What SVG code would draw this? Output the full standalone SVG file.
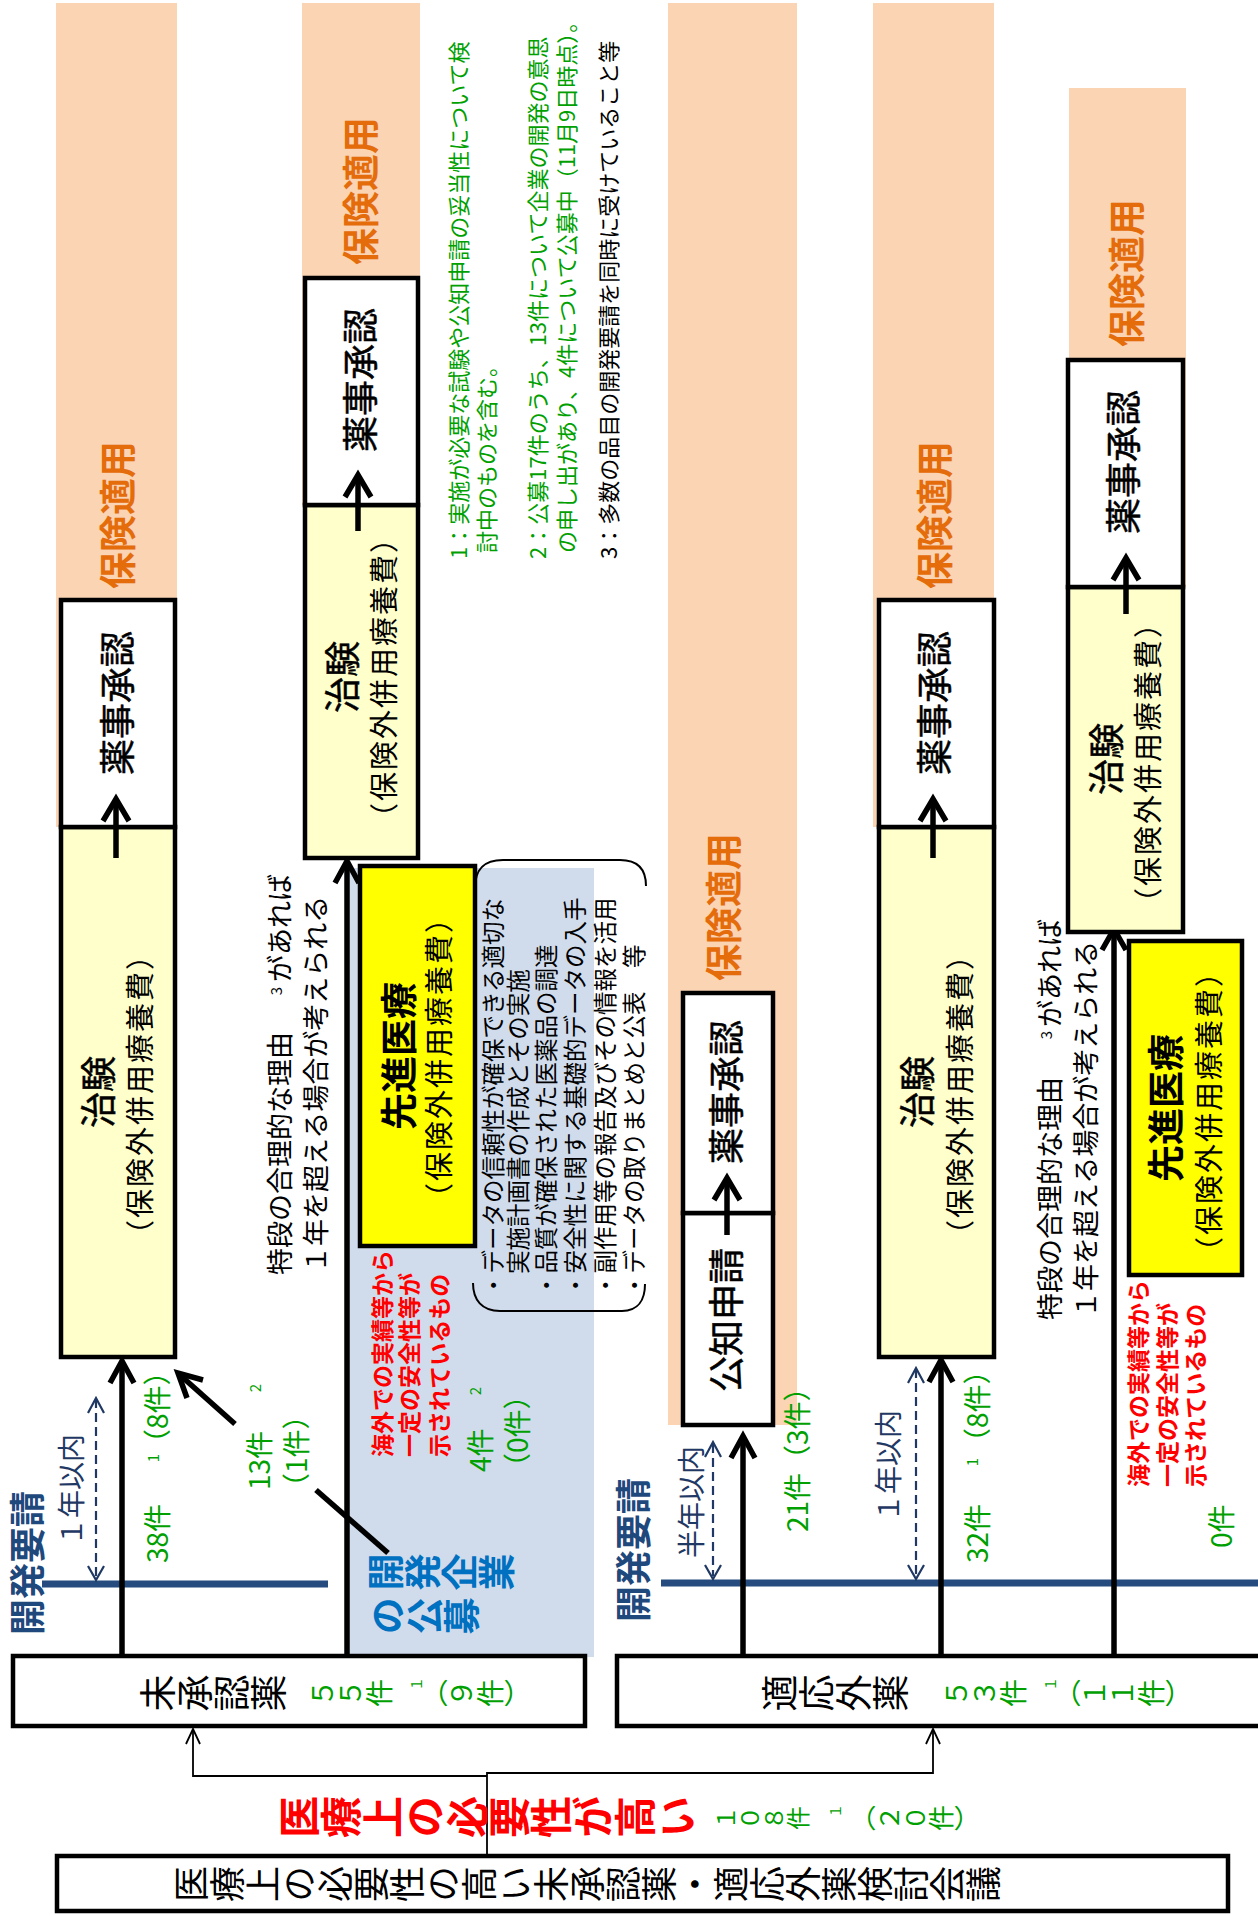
<svg xmlns="http://www.w3.org/2000/svg" width="1258" height="1916" viewBox="0 0 1258 1916">
<style>
text{font-family:"Noto Sans CJK JP","Noto Sans CJK SC",sans-serif;}
.v{writing-mode:vertical-rl;text-orientation:upright;}
.m{text-anchor:middle;}
.bx{stroke:#000;stroke-width:4.5;}
.peach{fill:#FBD4B4;}
.yl{fill:#FFFFCC;}
.yy{fill:#FFFF00;}
.wh{fill:#FFFFFF;}
.ora{fill:#E46C0A;font-weight:bold;font-size:37px;}
.lbl{fill:#000;font-size:36px;stroke:#000;stroke-width:0.5;}
.sub{fill:#000;font-size:29px;letter-spacing:2px;}
.sen{fill:#000;font-size:37px;font-weight:bold;}
.g{fill:#00A000;font-size:28px;}
.gs{fill:#00A000;font-size:15px;}
.red{fill:#FF0000;font-weight:bold;font-size:23px;}
.nv{fill:#1F3864;font-size:28px;}
.kh{fill:#1F497D;font-size:36px;font-weight:bold;}
.note{font-size:22px;}
.li{fill:#000;font-size:23.5px;}
.tk{fill:#000;font-size:27px;}
.flow{stroke:#000;stroke-width:5.5;fill:none;}
.thin{stroke:#000;stroke-width:1.8;fill:none;}
.dash{stroke:#1F3864;stroke-width:2.2;fill:none;stroke-dasharray:9 5;}
.ah{stroke:#1F3864;stroke-width:2.2;fill:none;}
.kline{stroke:#254B7F;stroke-width:7;}
</style>

<g id="backgrounds">
<rect class="peach" x="56" y="3" width="121" height="824"/>
<rect class="peach" x="302" y="3" width="118" height="502"/>
<rect class="peach" x="668" y="3" width="129" height="1422"/>
<rect class="peach" x="873" y="3" width="121" height="824"/>
<rect class="peach" x="1069" y="88" width="117" height="499"/>
<rect x="349" y="868" width="245" height="789" fill="#D0DCEC"/>
</g>

<g id="connectors">
<line class="kline" x1="42" y1="1584" x2="328" y2="1584"/>
<line class="kline" x1="661" y1="1583" x2="1260" y2="1583"/>
<path class="thin" d="M487,1855 V1773 H933 V1730 M487,1776 H193 V1730"/>
<path class="thin" d="M186,1744 L193,1729 L200,1744 M926,1744 L933,1729 L940,1744"/>
<line class="flow" x1="122" y1="1657" x2="122" y2="1362"/>
<polyline class="flow" points="110,1383 122,1361 134,1383"/>
<line class="flow" x1="347" y1="1657" x2="347" y2="862"/>
<polyline class="flow" points="335,883 347,861 359,883"/>
<line class="flow" x1="743" y1="1657" x2="743" y2="1437"/>
<polyline class="flow" points="731,1458 743,1436 755,1458"/>
<line class="flow" x1="941" y1="1657" x2="941" y2="1361"/>
<polyline class="flow" points="929,1382 941,1360 953,1382"/>
<line class="flow" x1="1114" y1="1657" x2="1114" y2="930"/>
<polyline class="flow" points="1102,950 1114,929 1126,950"/>
<line class="flow" x1="388" y1="1553" x2="316" y2="1490"/>
<line class="flow" x1="235" y1="1424" x2="180" y2="1375"/>
<polyline class="flow" points="187,1398 178,1373 203,1380"/>
<line class="dash" x1="96" y1="1399" x2="96" y2="1578"/>
<path class="ah" d="M88,1413 L96,1398 L104,1413 M88,1566 L96,1580 L104,1566"/>
<line class="dash" x1="713" y1="1444" x2="713" y2="1576"/>
<path class="ah" d="M705,1457 L713,1442 L721,1457 M705,1565 L713,1579 L721,1565"/>
<line class="dash" x1="916" y1="1369" x2="916" y2="1576"/>
<path class="ah" d="M908,1383 L916,1368 L924,1383 M908,1565 L916,1579 L924,1565"/>
<path d="M475,888 C475,870 483,860 503,860 L620,860 C638,860 646,870 646,886" fill="none" stroke="#000" stroke-width="2"/>
<path d="M473,1283 C473,1300 482,1311 500,1311 L622,1311 C638,1311 645,1300 645,1284" fill="none" stroke="#000" stroke-width="2"/>
</g>

<g id="node-kentou">
<rect class="bx wh" x="57" y="1856" width="1171" height="55" stroke-width="5"/>
<text class="v" style="font-size:36px" transform="translate(173,1884) rotate(-90)">医療上の必要性の高い未承認薬・適応外薬検討会議</text>
</g>

<g id="label-hitsuyousei">
<text class="v" style="font-size:42px;font-weight:bold;fill:#FF0000" transform="translate(278,1817) rotate(-90)">医療上の必要性が高い</text>
<text class="v" style="font-size:24px;fill:#00A000" transform="translate(714,1818) rotate(-90)">１０８件</text>
<text class="v" style="font-size:14px;fill:#00A000" transform="translate(829,1811) rotate(-90)">１</text>
<text class="v" style="font-size:26px;fill:#00A000" transform="translate(850,1818) rotate(-90)">（２０件）</text>
</g>

<g id="node-mishounin">
<rect class="bx wh" x="13" y="1656" width="572" height="70" stroke-width="5"/>
<text class="v" style="font-size:37px" transform="translate(139,1693) rotate(-90)">未承認薬</text>
<text class="v" style="font-size:28px;fill:#00A000" transform="translate(309,1693) rotate(-90)">５５件</text>
<text class="v" style="font-size:14px;fill:#00A000" transform="translate(410,1684) rotate(-90)">１</text>
<text class="v" style="font-size:28px;fill:#00A000" transform="translate(420,1693) rotate(-90)">（９件）</text>
</g>

<g id="node-tekiougai">
<rect class="bx wh" x="617" y="1656" width="680" height="70" stroke-width="5"/>
<text class="v" style="font-size:37px" transform="translate(761,1693) rotate(-90)">適応外薬</text>
<text class="v" style="font-size:28px;fill:#00A000" transform="translate(943,1693) rotate(-90)">５３件</text>
<text class="v" style="font-size:14px;fill:#00A000" transform="translate(1044,1684) rotate(-90)">１</text>
<text class="v" style="font-size:28px;fill:#00A000" transform="translate(1053,1693) rotate(-90)">（１１件）</text>
</g>

<g id="labels-kaihatsu">
<text class="kh m" transform="translate(41,1563) rotate(-90)">開発要請</text>
<text class="kh m" transform="translate(647,1550) rotate(-90)">開発要請</text>
<text class="nv m" transform="translate(82,1490) rotate(-90)">１年以内</text>
<text class="nv m" transform="translate(702,1502) rotate(-90)">半年以内</text>
<text class="nv m" transform="translate(899,1466) rotate(-90)">１年以内</text>
</g>

<g id="counts">
<text class="g" transform="translate(168,1563) rotate(-90)">38件</text>
<text class="gs m" transform="translate(159,1458) rotate(-90)">1</text>
<text class="g" transform="translate(168,1457) rotate(-90)">（8件）</text>
<text class="g" transform="translate(270,1490) rotate(-90)">13件</text>
<text class="gs m" transform="translate(261,1388) rotate(-90)">2</text>
<text class="g" transform="translate(307,1501) rotate(-90)">（1件）</text>
<text class="g" transform="translate(491,1472) rotate(-90)">4件</text>
<text class="gs m" transform="translate(481,1391) rotate(-90)">2</text>
<text class="g" transform="translate(528,1481) rotate(-90)">（0件）</text>
<text class="g" transform="translate(808,1532) rotate(-90)">21件（3件）</text>
<text class="g" transform="translate(988,1563) rotate(-90)">32件</text>
<text class="gs m" transform="translate(978,1462) rotate(-90)">1</text>
<text class="g" transform="translate(988,1456) rotate(-90)">（8件）</text>
<text class="g" transform="translate(1232,1548) rotate(-90)">0件</text>
</g>

<g id="labels-kaigai">
<text class="red" transform="translate(391,1457) rotate(-90)">海外での実績等から</text>
<text class="red" transform="translate(418,1457) rotate(-90)">一定の安全性等が</text>
<text class="red" transform="translate(448,1457) rotate(-90)">示されているもの</text>
<text class="red" transform="translate(1147,1487) rotate(-90)">海外での実績等から</text>
<text class="red" transform="translate(1176,1487) rotate(-90)">一定の安全性等が</text>
<text class="red" transform="translate(1204,1487) rotate(-90)">示されているもの</text>
</g>

<g id="label-koubo">
<text class="v" style="font-size:37px;font-weight:bold;fill:#0070C0" transform="translate(367,1572) rotate(-90)">開発企業</text>
<text class="v" style="font-size:37px;font-weight:bold;fill:#0070C0" transform="translate(369,1616) rotate(-90)">の公募</text>
</g>

<g id="node-chiken-1">
<rect class="bx yl" x="61" y="827" width="114" height="530"/>
<text class="lbl m" transform="translate(112,1092) rotate(-90)">治験</text>
<text class="sub m" transform="translate(151,1094) rotate(-90)">（保険外併用療養費）</text>
</g>
<g id="node-shounin-1">
<rect class="bx wh" x="61" y="600" width="114" height="227"/>
<text class="lbl m" transform="translate(131,703) rotate(-90)">薬事承認</text>
<text class="ora m" transform="translate(132,515) rotate(-90)">保険適用</text>
<line class="flow" x1="116" y1="858" x2="116" y2="800"/>
<polyline class="flow" points="103,821 116,799 129,821"/>
</g>

<g id="node-chiken-2">
<rect class="bx yl" x="305" y="505" width="113" height="353"/>
<text class="lbl m" transform="translate(356,677) rotate(-90)">治験</text>
<text class="sub m" transform="translate(395,677) rotate(-90)">（保険外併用療養費）</text>
</g>
<g id="node-shounin-2">
<rect class="bx wh" x="305" y="278" width="113" height="227"/>
<text class="lbl m" transform="translate(374,380) rotate(-90)">薬事承認</text>
<text class="ora m" transform="translate(375,191) rotate(-90)">保険適用</text>
<line class="flow" x1="358" y1="531" x2="358" y2="476"/>
<polyline class="flow" points="345,497 358,475 371,497"/>
</g>

<g id="node-senshin-1">
<rect class="bx yy" x="360" y="866" width="115" height="380"/>
<text class="sen m" transform="translate(413,1056) rotate(-90)">先進医療</text>
<text class="sub m" transform="translate(450,1057) rotate(-90)">（保険外併用療養費）</text>
</g>

<g id="label-tokudan-1">
<text class="tk" transform="translate(290,1275) rotate(-90)">特段の合理的な理由</text>
<text class="gs m" style="fill:#000" transform="translate(282,991) rotate(-90)">3</text>
<text class="tk" transform="translate(290,982) rotate(-90)">があれば</text>
<text class="tk" transform="translate(326,1273) rotate(-90)">１年を超える場合が考えられる</text>
</g>

<g id="label-list">
<text class="li" transform="translate(502,1297) rotate(-90)">・データの信頼性が確保できる適切な</text>
<text class="li" transform="translate(527,1274) rotate(-90)">実施計画書の作成とその実施</text>
<text class="li" transform="translate(555,1297) rotate(-90)">・品質が確保された医薬品の調達</text>
<text class="li" transform="translate(584,1297) rotate(-90)">・安全性に関する基礎的データの入手</text>
<text class="li" transform="translate(614,1297) rotate(-90)">・副作用等の報告及びその情報を活用</text>
<text class="li" transform="translate(643,1297) rotate(-90)">・データの取りまとめと公表　等</text>
</g>

<g id="notes">
<text class="note" fill="#00A000" transform="translate(467,559) rotate(-90)">1：実施が必要な試験や公知申請の妥当性について検</text>
<text class="note" fill="#00A000" transform="translate(495,553) rotate(-90)">討中のものを含む。</text>
<text class="note" fill="#00A000" transform="translate(546,559) rotate(-90)">2：公募17件のうち、13件について企業の開発の意思</text>
<text class="note" fill="#00A000" transform="translate(575,553) rotate(-90)">の申し出があり、4件について公募中（11月9日時点）。</text>
<text class="note" fill="#000" transform="translate(617,559) rotate(-90)">3：多数の品目の開発要請を同時に受けていること等</text>
</g>

<g id="node-kouchi">
<rect class="bx wh" x="683" y="1213" width="90" height="212"/>
<text class="lbl m" transform="translate(740,1320) rotate(-90)">公知申請</text>
</g>
<g id="node-shounin-2b">
<rect class="bx wh" x="683" y="993" width="90" height="220"/>
<text class="lbl m" transform="translate(740,1092) rotate(-90)">薬事承認</text>
<text class="ora m" transform="translate(738,907) rotate(-90)">保険適用</text>
<line class="flow" x1="727" y1="1235" x2="727" y2="1180"/>
<polyline class="flow" points="714,1200 727,1178 740,1200"/>
</g>

<g id="node-chiken-3">
<rect class="bx yl" x="879" y="827" width="115" height="530"/>
<text class="lbl m" transform="translate(931,1092) rotate(-90)">治験</text>
<text class="sub m" transform="translate(971,1094) rotate(-90)">（保険外併用療養費）</text>
</g>
<g id="node-shounin-3">
<rect class="bx wh" x="879" y="600" width="115" height="227"/>
<text class="lbl m" transform="translate(948,703) rotate(-90)">薬事承認</text>
<text class="ora m" transform="translate(949,515) rotate(-90)">保険適用</text>
<line class="flow" x1="933" y1="858" x2="933" y2="800"/>
<polyline class="flow" points="920,821 933,799 946,821"/>
</g>

<g id="node-chiken-4">
<rect class="bx yl" x="1068" y="587" width="115" height="345"/>
<text class="lbl m" transform="translate(1120,759) rotate(-90)">治験</text>
<text class="sub m" transform="translate(1159,762) rotate(-90)">（保険外併用療養費）</text>
</g>
<g id="node-shounin-4">
<rect class="bx wh" x="1068" y="360" width="115" height="227"/>
<text class="lbl m" transform="translate(1137,462) rotate(-90)">薬事承認</text>
<text class="ora m" transform="translate(1141,273) rotate(-90)">保険適用</text>
<line class="flow" x1="1126" y1="614" x2="1126" y2="559"/>
<polyline class="flow" points="1113,580 1126,558 1139,580"/>
</g>

<g id="node-senshin-2">
<rect class="bx yy" x="1129" y="941" width="113" height="334"/>
<text class="sen m" transform="translate(1180,1108) rotate(-90)">先進医療</text>
<text class="sub m" transform="translate(1220,1111) rotate(-90)">（保険外併用療養費）</text>
</g>

<g id="label-tokudan-2">
<text class="tk" transform="translate(1060,1320) rotate(-90)">特段の合理的な理由</text>
<text class="gs m" style="fill:#000" transform="translate(1052,1035) rotate(-90)">3</text>
<text class="tk" transform="translate(1060,1027) rotate(-90)">があれば</text>
<text class="tk" transform="translate(1096,1318) rotate(-90)">１年を超える場合が考えられる</text>
</g>
</svg>
